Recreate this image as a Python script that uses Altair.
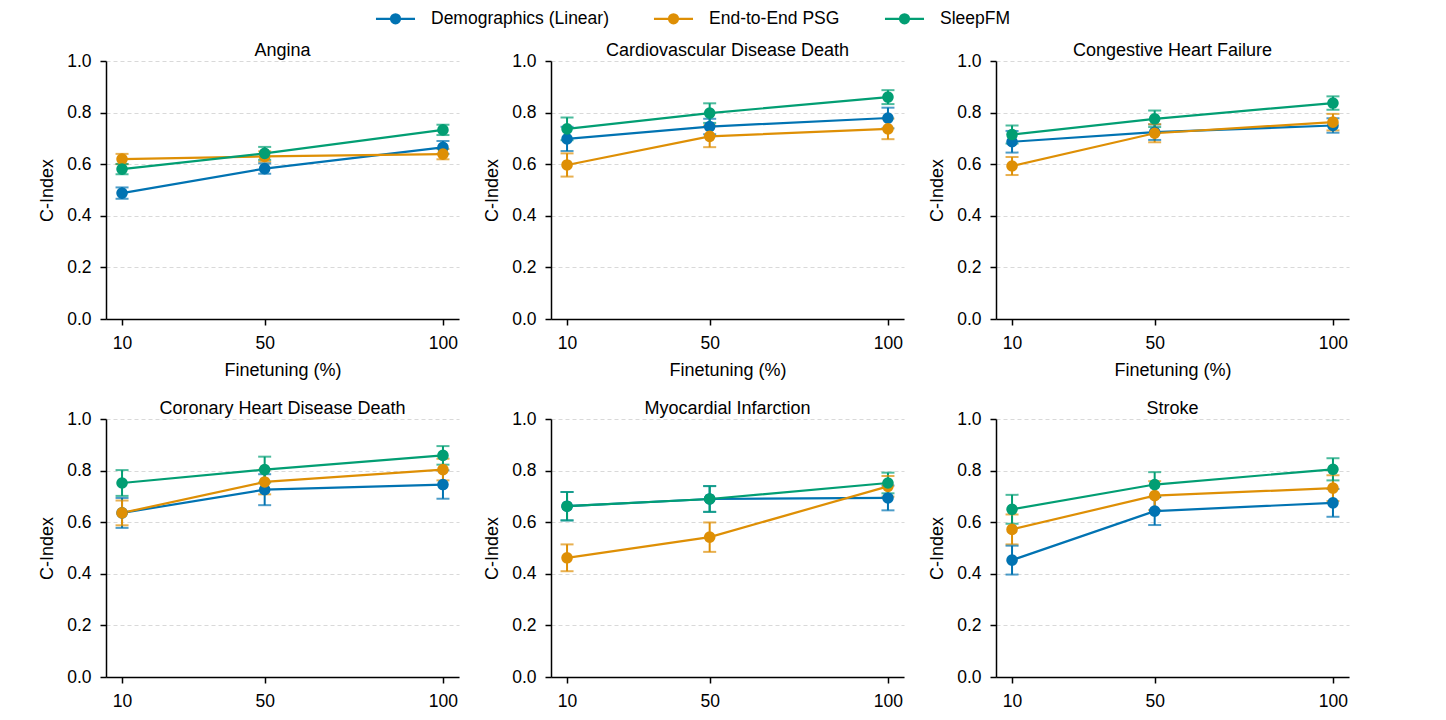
import altair as alt
import pandas as pd

FINETUNE = [10, 50, 100]
SERIES = ["Demographics (Linear)", "End-to-End PSG", "SleepFM"]
COLORS = ["#0173B2", "#DE8F05", "#029E73"]
PANELS = [
    "Angina",
    "Cardiovascular Disease Death",
    "Congestive Heart Failure",
    "Coronary Heart Disease Death",
    "Myocardial Infarction",
    "Stroke",
]

# C-index (mean) and error half-width, per panel, series order as SERIES
angina_mean = [[0.488, 0.583, 0.665], [0.620, 0.630, 0.639], [0.581, 0.642, 0.733]]
angina_err = [[0.022, 0.020, 0.025], [0.020, 0.020, 0.020], [0.020, 0.025, 0.020]]
cvd_mean = [[0.698, 0.746, 0.779], [0.597, 0.708, 0.737], [0.737, 0.798, 0.860]]
cvd_err = [[0.047, 0.030, 0.040], [0.045, 0.042, 0.040], [0.044, 0.038, 0.027]]
chf_mean = [[0.687, 0.724, 0.750], [0.593, 0.720, 0.763], [0.715, 0.776, 0.837]]
chf_err = [[0.042, 0.030, 0.028], [0.035, 0.035, 0.032], [0.035, 0.032, 0.026]]
chd_mean = [[0.636, 0.726, 0.746], [0.636, 0.756, 0.804], [0.752, 0.804, 0.859]]
chd_err = [[0.058, 0.060, 0.055], [0.048, 0.048, 0.042], [0.050, 0.050, 0.036]]
mi_mean = [[0.662, 0.690, 0.694], [0.462, 0.542, 0.739], [0.662, 0.690, 0.752]]
mi_err = [[0.055, 0.050, 0.048], [0.052, 0.057, 0.040], [0.055, 0.050, 0.040]]
stroke_mean = [[0.453, 0.643, 0.675], [0.572, 0.703, 0.732], [0.650, 0.746, 0.805]]
stroke_err = [[0.056, 0.054, 0.054], [0.058, 0.056, 0.050], [0.056, 0.048, 0.043]]

MEANS = [angina_mean, cvd_mean, chf_mean, chd_mean, mi_mean, stroke_mean]
ERRS = [angina_err, cvd_err, chf_err, chd_err, mi_err, stroke_err]

rows = []
for p, name in enumerate(PANELS):
    for s, ser in enumerate(SERIES):
        for i, pct in enumerate(FINETUNE):
            m = MEANS[p][s][i]
            e = ERRS[p][s][i]
            rows.append({"panel": name, "series": ser, "pct": pct,
                         "cidx": m, "lo": m - e, "hi": m + e})
df = pd.DataFrame(rows)

FONT = "Liberation Sans"
# line with a dot on it, matplotlib-style legend handle
LEGEND_PATH = ("M-2.17,0H2.17M0.5,0A0.5,0.5,0,1,1,-0.5,0"
               "A0.5,0.5,0,1,1,0.5,0Z")

color = alt.Color(
    "series:N",
    scale=alt.Scale(domain=SERIES, range=COLORS),
    legend=alt.Legend(
        title=None, orient="none", direction="horizontal",
        legendX=279, legendY=-53,
        symbolType=LEGEND_PATH, symbolSize=324, symbolStrokeWidth=2.2,
        symbolOpacity=1,
        labelFontSize=17.5, labelFont=FONT, labelColor="black", labelLimit=400,
        labelOffset=25, columnPadding=40,
    ),
)

yscale = alt.Scale(domain=[0, 1])
yaxis = alt.Axis(title="C-Index", values=[0, 0.2, 0.4, 0.6, 0.8, 1.0],
                 format=".1f", grid=True, gridDash=[4, 3],
                 gridColor="#d9d9d9", gridWidth=1)


def panel(name, show_xtitle):
    xaxis = dict(values=FINETUNE, format="d", grid=False)
    xaxis["title"] = "Finetuning (%)" if show_xtitle else ""
    x = alt.X("pct:Q", scale=alt.Scale(domain=[5.5, 104.5], nice=False, zero=False),
              axis=alt.Axis(**xaxis))
    y = alt.Y("cidx:Q", scale=yscale, axis=yaxis)
    ylo = alt.Y("lo:Q", scale=yscale, axis=yaxis)
    yhi = alt.Y("hi:Q", scale=yscale, axis=yaxis)
    base = alt.Chart(df).transform_filter(alt.datum.panel == name)
    rules = base.mark_rule(strokeWidth=2).encode(x=x, y=ylo, y2="hi:Q", color=color)
    caps_lo = base.mark_tick(orient="horizontal", size=13, thickness=2).encode(
        x=x, y=ylo, color=color)
    caps_hi = base.mark_tick(orient="horizontal", size=13, thickness=2).encode(
        x=x, y=yhi, color=color)
    lines = base.mark_line(strokeWidth=2.2).encode(x=x, y=y, color=color, order="pct:Q")
    pts = base.mark_circle(size=135, opacity=1).encode(x=x, y=y, color=color)
    return alt.layer(rules, caps_lo, caps_hi, lines, pts).properties(
        width=353, height=258,
        title=alt.TitleParams(name, fontSize=18, font=FONT, fontWeight="normal",
                              color="black", offset=-8),
    )


row1 = alt.hconcat(*[panel(n, True) for n in PANELS[:3]], spacing=24)
row2 = alt.hconcat(*[panel(n, False) for n in PANELS[3:]], spacing=24)

chart = alt.vconcat(row1, row2, spacing=20).properties(
    padding={"left": 30, "top": 0, "right": 5, "bottom": 5}
).configure_view(stroke=None).configure_axis(
    domainColor="black", domainWidth=1.5, tickColor="black", tickWidth=1.5,
    tickSize=6, labelFontSize=17.5, labelFont=FONT, labelColor="black",
    labelPadding=9, titleFontSize=18, titleFont=FONT, titleFontWeight="normal",
    titleColor="black", titlePadding=10,
)

chart.save("out.html", embed_options={"renderer": "svg", "actions": False})
